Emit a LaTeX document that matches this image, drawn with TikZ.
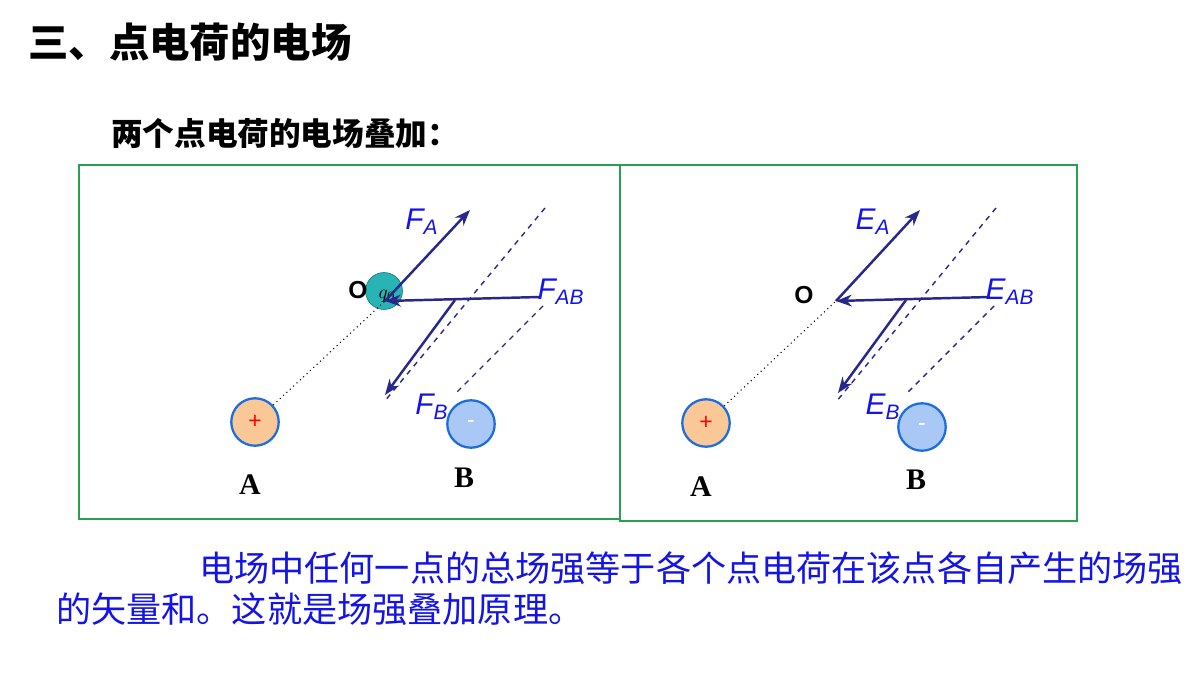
\documentclass[tikz,border=0pt]{standalone}
\usepackage{fontspec}
\setmainfont{Liberation Serif}
\newfontfamily\cjk{Noto Sans CJK SC}
\newfontfamily\lab{Liberation Sans}
\usetikzlibrary{arrows.meta}
\definecolor{frame}{RGB}{40,160,80}
\definecolor{vec}{RGB}{40,40,140}
\definecolor{txtblue}{RGB}{20,20,230}
\definecolor{posfill}{RGB}{250,200,150}
\definecolor{negfill}{RGB}{170,200,245}
\definecolor{ring}{RGB}{30,110,220}
\definecolor{qfill}{RGB}{40,180,180}

\begin{document}
\begin{tikzpicture}[x=0.02cm,y=-0.02cm]
\tikzset{
  vector/.style={vec,line width=1.4pt,-{Stealth[length=9pt]}},
  helper/.style={vec,dashed,line width=0.8pt},
  joinline/.style={black,dotted,line width=0.6pt},
  charge/.style={circle,draw=ring,line width=1.3pt,minimum size=27pt,inner sep=0pt},
  veclabel/.style={txtblue,font=\lab\itshape\fontsize{17}{17}\selectfont},
  chargelabel/.style={font=\bfseries\fontsize{17}{17}\selectfont}
}
\useasboundingbox (0,0) rectangle (1200,675);
\fill[white] (0,0) rectangle (1200,675);
% heading
\node[anchor=west,font=\cjk\bfseries\fontsize{23}{23}\selectfont] (title) at (22,42) {三、点电荷的电场};
\node[anchor=west,font=\cjk\bfseries\fontsize{18}{18}\selectfont] (sub) at (105,133) {两个点电荷的电场叠加：};
% frames
\draw[frame,line width=1.3pt] (79,165) rectangle (620,519);
\draw[frame,line width=1.3pt] (620,165) rectangle (1077,521);
% left panel
\node[charge,fill=posfill] (A1) at (255,422) {\textcolor{red}{\lab\fontsize{13}{13}\selectfont +}};
\node[charge,fill=negfill] (B1) at (471,424) {\textcolor{white}{\lab\fontsize{13}{13}\selectfont -}};
\node[chargelabel] (la1) at (250,485) {A};
\node[chargelabel] (lb1) at (464,478) {B};
\node[circle,fill=qfill,draw=qfill!70!black,minimum size=21pt,inner sep=0pt] (q) at (384,291) {};
\node[font=\itshape\fontsize{11}{11}\selectfont] at (387,296) {$q_0$};
\coordinate (O1) at (385,301);
\node[font=\lab\bfseries\fontsize{14}{14}\selectfont] (o1) at (358,290) {O};
\coordinate (fa) at (470,210);
\coordinate (fab) at (540,297);
\coordinate (fb) at (385,395);
\coordinate (cross1) at (455,300);
\draw[joinline] (A1) -- (O1);
\draw[helper] (545,208) -- (384,402);
\draw[helper] (543,306) -- (455,394);
\draw[vector] (O1) -- (fa);
\draw[vector] (fab) -- (O1);
\draw[vector] (cross1) -- (fb);
\node[veclabel] at (422,222) {F\textsubscript{A}};
\node[veclabel] at (561,292) {F\textsubscript{AB}};
\node[veclabel] at (432,407) {F\textsubscript{B}};
% right panel
\node[charge,fill=posfill] (A2) at (706,423) {\textcolor{red}{\lab\fontsize{13}{13}\selectfont +}};
\node[charge,fill=negfill] (B2) at (922,427) {\textcolor{white}{\lab\fontsize{13}{13}\selectfont -}};
\node[chargelabel] (la2) at (701,487) {A};
\node[chargelabel] (lb2) at (916,480) {B};
\coordinate (O2) at (836,301);
\node[font=\lab\bfseries\fontsize{14}{14}\selectfont] (o2) at (804,295) {O};
\coordinate (ea) at (920,210);
\coordinate (eab) at (990,297);
\coordinate (eb) at (838,393);
\coordinate (cross2) at (906,300);
\draw[joinline] (A2) -- (O2);
\draw[helper] (996,208) -- (836,402);
\draw[helper] (994,306) -- (906,394);
\draw[vector] (O2) -- (ea);
\draw[vector] (eab) -- (O2);
\draw[vector] (cross2) -- (eb);
\node[veclabel] at (873,222) {E\textsubscript{A}};
\node[veclabel] at (1010,292) {E\textsubscript{AB}};
\node[veclabel] at (883,407) {E\textsubscript{B}};
% statement
\node[anchor=west,txtblue,font=\cjk\fontsize{20}{20}\selectfont] (s1) at (193,568) {电场中任何一点的总场强等于各个点电荷在该点各自产生的场强};
\node[anchor=west,txtblue,font=\cjk\fontsize{20}{20}\selectfont] (s2) at (50,609) {的矢量和。这就是场强叠加原理。};
\end{tikzpicture}
\end{document}
